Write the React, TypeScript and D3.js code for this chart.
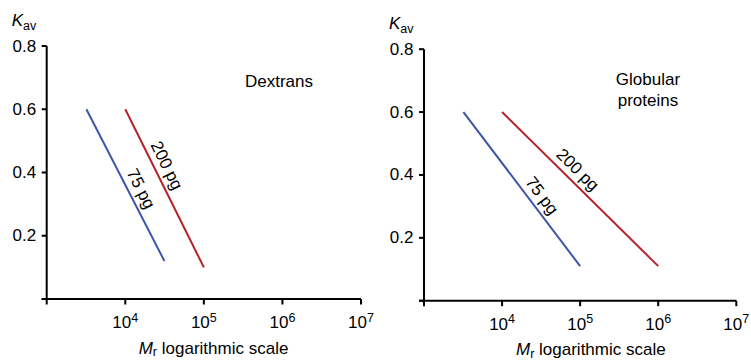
import React from "react";
import * as d3 from "d3";

// ---- data ----
const xTickValues = [1e3, 1e4, 1e5, 1e6, 1e7];
const xTickExponents = ["", "4", "5", "6", "7"];
const yTickValues = [0, 0.2, 0.4, 0.6, 0.8];
const yTickLabels = ["", "0.2", "0.4", "0.6", "0.8"];
const seriesLabels = ["75 pg", "200 pg"];

const dextrans75Mr = [3.2e3, 3.15e4];
const dextrans75Kav = [0.6, 0.12];
const dextrans200Mr = [1e4, 1e5];
const dextrans200Kav = [0.6, 0.1];

const proteins75Mr = [3.2e3, 1e5];
const proteins75Kav = [0.6, 0.11];
const proteins200Mr = [1e4, 1e6];
const proteins200Kav = [0.6, 0.11];

const panelTitles = [["Dextrans"], ["Globular", "proteins"]];

// ---- layout ----
const W = 751;
const H = 360;
const FONT = "'Liberation Sans', Arial, Helvetica, sans-serif";
const FS = 17;
const FS_SMALL = 12.5;
const colors = ["#3f55a6", "#b5222a"];

type Panel = {
  x0: number;
  yb: number;
  w: number;
  h: number;
  series: { mr: number[]; kav: number[] }[];
  title: string[];
  titleX: number;
  titleY: number;
  titleAnchor: "start" | "middle";
  labelT: number[];
};

const panels: Panel[] = [
  {
    x0: 46.7,
    yb: 299,
    w: 314.3,
    h: 253,
    series: [
      { mr: dextrans75Mr, kav: dextrans75Kav },
      { mr: dextrans200Mr, kav: dextrans200Kav },
    ],
    title: panelTitles[0],
    titleX: 245,
    titleY: 86.5,
    titleAnchor: "start",
    labelT: [0.56, 0.39],
  },
  {
    x0: 424,
    yb: 300.7,
    w: 312.3,
    h: 251.5,
    series: [
      { mr: proteins75Mr, kav: proteins75Kav },
      { mr: proteins200Mr, kav: proteins200Kav },
    ],
    title: panelTitles[1],
    titleX: 648,
    titleY: 85,
    titleAnchor: "middle",
    labelT: [0.59, 0.43],
  },
];

function PanelView({ p }: { p: Panel }) {
  const x = d3.scaleLog().domain([1e3, 1e7]).range([p.x0, p.x0 + p.w]);
  const y = d3.scaleLinear().domain([0, 0.8]).range([p.yb, p.yb - p.h]);
  const line = d3
    .line<[number, number]>()
    .x((d) => x(d[0]))
    .y((d) => y(d[1]));

  return (
    <g>
      {/* y label */}
      <text x={p.x0 - 35} y={p.yb - p.h - 20} fontFamily={FONT} fontSize={FS}>
        <tspan fontStyle="italic">K</tspan>
        <tspan fontSize={FS_SMALL} dy={4}>av</tspan>
      </text>
      {/* axes */}
      <line x1={p.x0} x2={p.x0} y1={p.yb - p.h} y2={p.yb} stroke="#000" strokeWidth={2} />
      <line x1={p.x0 - 5} x2={p.x0 + p.w} y1={p.yb} y2={p.yb} stroke="#000" strokeWidth={2} />
      {yTickValues.map((v, i) => (
        <g key={"y" + i}>
          <line x1={p.x0 - 5} x2={p.x0} y1={y(v)} y2={y(v)} stroke="#000" strokeWidth={2} />
          {yTickLabels[i] && (
            <text
              x={p.x0 - 10.5}
              y={y(v)}
              textAnchor="end"
              dominantBaseline="central"
              fontFamily={FONT}
              fontSize={FS}
            >
              {yTickLabels[i]}
            </text>
          )}
        </g>
      ))}
      {xTickValues.map((v, i) => (
        <g key={"x" + i}>
          <line x1={x(v)} x2={x(v)} y1={p.yb} y2={p.yb + 5.5} stroke="#000" strokeWidth={2} />
          {xTickExponents[i] && (
            <text x={x(v)} y={p.yb + 29} textAnchor="middle" fontFamily={FONT} fontSize={FS}>
              10
              <tspan fontSize={FS_SMALL} dy={-6.5}>
                {xTickExponents[i]}
              </tspan>
            </text>
          )}
        </g>
      ))}
      {/* x title */}
      <text x={p.x0 + 92} y={p.yb + 54.5} fontFamily={FONT} fontSize={FS}>
        <tspan fontStyle="italic">M</tspan>
        <tspan fontSize={FS_SMALL} dy={2.5}>r</tspan>
        <tspan dy={-2.5}> logarithmic scale</tspan>
      </text>
      {/* panel title */}
      {p.title.map((t, i) => (
        <text
          key={"t" + i}
          x={p.titleX}
          y={p.titleY + i * 20.5}
          textAnchor={p.titleAnchor}
          fontFamily={FONT}
          fontSize={FS}
        >
          {t}
        </text>
      ))}
      {/* series */}
      {p.series.map((s, i) => {
        const pts: [number, number][] = s.mr.map((m, j) => [m, s.kav[j]]);
        const a = [x(pts[0][0]), y(pts[0][1])];
        const b = [x(pts[1][0]), y(pts[1][1])];
        const dx = b[0] - a[0];
        const dy = b[1] - a[1];
        const len = Math.hypot(dx, dy);
        const ang = (Math.atan2(dy, dx) * 180) / Math.PI;
        const t = p.labelT[i];
        const cx = a[0] + dx * t + (dy / len) * 12;
        const cy = a[1] + dy * t - (dx / len) * 12;
        return (
          <g key={"s" + i}>
            <path d={line(pts) || ""} fill="none" stroke={colors[i]} strokeWidth={2} />
            <text
              transform={`translate(${cx},${cy}) rotate(${ang})`}
              textAnchor="middle"
              dominantBaseline="central"
              fontFamily={FONT}
              fontSize={FS}
            >
              {seriesLabels[i]}
            </text>
          </g>
        );
      })}
    </g>
  );
}

export default function App() {
  return (
    <svg
      width={W}
      height={H}
      viewBox={`0 0 ${W} ${H}`}
      style={{ position: "absolute", left: 0, top: 0, background: "#fff" }}
    >
      <rect x={0} y={0} width={W} height={H} fill="#fff" />
      {panels.map((p, i) => (
        <PanelView key={i} p={p} />
      ))}
    </svg>
  );
}
